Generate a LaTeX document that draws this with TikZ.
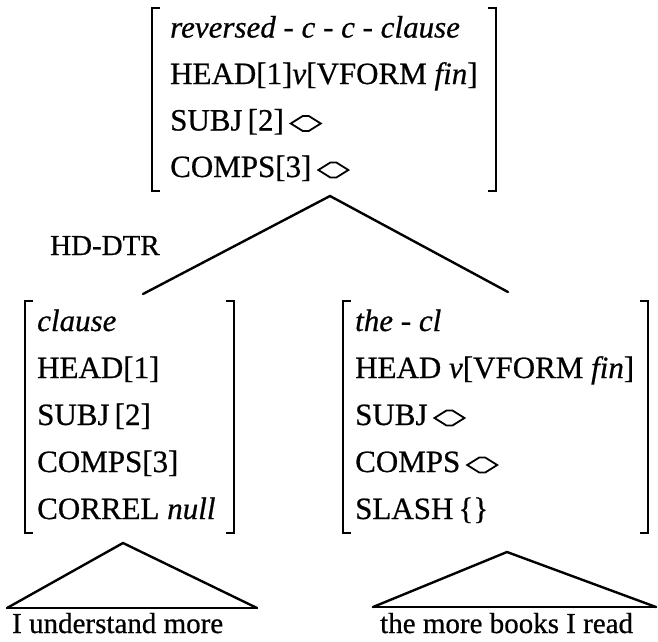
\documentclass[tikz,border=0pt]{standalone}
\usepackage{fontspec}
\setmainfont{Liberation Serif}[FakeBold=0.6]
\usetikzlibrary{calc}

% empty list symbol: a flat diamond, like < and > joined
\newcommand\elist{\tikz[baseline=0pt,x=1pt,y=1pt]\draw[line width=1.8pt,line join=miter] (0,7)--(12,14.5)--(18,14.5)--(30,7)--(18,-0.5)--(12,-0.5)--cycle;}

% square brackets round an AVM node: #1 node, #2 left pad, #3 right pad
\newcommand\avmbrackets[3]{%
  \draw[brk] ($(#1.north west)+(-#2+8,3)$) -- ($(#1.north west)+(-#2,3)$)
            -- ($(#1.south west)+(-#2,0)$) -- ($(#1.south west)+(-#2+8,0)$);
  \draw[brk] ($(#1.north east)+(#3-8,3)$) -- ($(#1.north east)+(#3,3)$)
            -- ($(#1.south east)+(#3,0)$) -- ($(#1.south east)+(#3-8,0)$);
}

\begin{document}
\begin{tikzpicture}[x=1pt,y=-1pt,
  avm/.style={inner sep=0pt, anchor=base west},
  yield/.style={inner sep=0pt, anchor=base west, font=\fontsize{29}{35}\selectfont},
  brk/.style={line width=2.2pt},
  branch/.style={line width=2.4pt, line cap=round}]
\useasboundingbox (0,0) rectangle (658,641);

% mother AVM
\node[avm, font=\fontsize{31}{46.5}\selectfont] (mother) at (170,37.5)
  {\begin{tabular}[t]{@{}l@{}}
   \textit{reversed - c - c - clause}\\
   HEAD[1]\textit{v}[VFORM \textit{fin}]\\
   SUBJ\,[2]\hspace{6pt}\elist\\
   COMPS[3]\hspace{6pt}\elist
   \end{tabular}};
\avmbrackets{mother}{18}{18}

% head daughter AVM
\node[avm, font=\fontsize{31}{47}\selectfont] (hd) at (37,331)
  {\begin{tabular}[t]{@{}l@{}}
   \textit{clause}\\
   HEAD[1]\\
   SUBJ\,[2]\\
   COMPS[3]\\
   CORREL \textit{null}
   \end{tabular}};
\avmbrackets{hd}{12}{18}

% non-head daughter AVM
\node[avm, font=\fontsize{31}{47}\selectfont] (nhd) at (355,331)
  {\begin{tabular}[t]{@{}l@{}}
   \textit{the - cl}\\
   HEAD \textit{v}[VFORM \textit{fin}]\\
   SUBJ\hspace{6pt}\elist\\
   COMPS\hspace{6pt}\elist\\
   SLASH\,\{\}
   \end{tabular}};
\avmbrackets{nhd}{12}{14}

\node[yield] (hddtr) at (50,255) {HD-DTR};

% branches from the mother
\coordinate (mfoot) at (330,196);
\coordinate (lroof) at (143,294);
\coordinate (rroof) at (508,292);
\draw[branch] (lroof) -- (mfoot) -- (rroof);

% yields
\node[yield] (lyield) at (12,633) {I understand more};
\node[yield] (ryield) at (380,633) {the more books I read};

% triangles under the daughters
\coordinate (lapex) at (123,543);
\coordinate (lbl) at (7,608);
\coordinate (lbr) at (257,608);
\draw[branch] (lbl) -- (lapex) -- (lbr);
\draw[branch] (lbl) -- (lbr);

\coordinate (rapex) at (507,552);
\coordinate (rbl) at (373,607);
\coordinate (rbr) at (656,607);
\draw[branch] (rbl) -- (rapex) -- (rbr);
\draw[branch] (rbl) -- (rbr);
\end{tikzpicture}
\end{document}
